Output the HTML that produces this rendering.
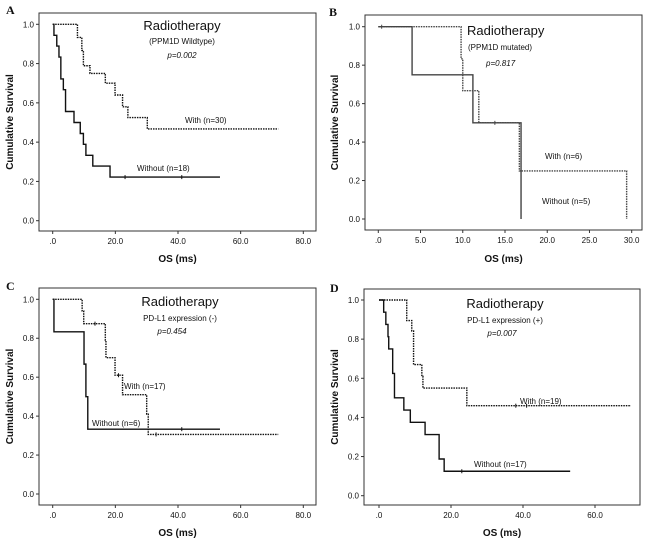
<!DOCTYPE html>
<html><head><meta charset="utf-8"><style>
body{margin:0;background:#fff}
svg text{font-family:"Liberation Sans",sans-serif;fill:#111}
svg text.letter{font-family:"Liberation Serif",serif}
</style></head><body>
<svg id="chart" width="650" height="545" viewBox="0 0 650 545" xmlns="http://www.w3.org/2000/svg"></svg>
<script>
// Panel A data
const aWithoutT=[0.4,1.3,2.0,2.6,3.4,4.1,6.8,8.8,9.8,10.6,12.8,18.3];
const aWithoutS=[0.944,0.889,0.833,0.722,0.667,0.556,0.5,0.444,0.389,0.333,0.278,0.222];
const aWithoutEnd=53.4, aWithoutCens=[23.1,41.2];
const aWithT=[7.9,9.3,9.8,11.9,16.8,19.9,22.3,24.0,30.2];
const aWithS=[0.933,0.867,0.789,0.75,0.70,0.64,0.58,0.525,0.467];
const aWithEnd=72.0, aWithCens=[];
// Panel B data
const bWithoutT=[4.0,11.2,16.9];
const bWithoutS=[0.75,0.5,0];
const bWithoutEnd=16.9, bWithoutCens=[0.4];
const bWithT=[9.8,10.0,11.9,16.7,29.4];
const bWithS=[0.833,0.667,0.5,0.25,0];
const bWithEnd=29.4, bWithCens=[13.8];
// Panel C data
const cWithoutT=[0.4,10.0,10.6,11.2];
const cWithoutS=[0.833,0.667,0.5,0.333];
const cWithoutEnd=53.4, cWithoutCens=[41.2];
const cWithT=[9.4,9.9,16.8,17.0,19.9,22.3,30.0,30.5];
const cWithS=[0.94,0.875,0.79,0.70,0.61,0.51,0.41,0.306];
const cWithEnd=72.0, cWithCens=[13.5,21.0,33.0];
// Panel D data
const dWithoutT=[1.3,1.9,2.5,2.7,3.8,4.3,6.9,8.7,12.8,16.7,18.1];
const dWithoutS=[0.9375,0.875,0.8125,0.75,0.625,0.5,0.4375,0.375,0.3125,0.1875,0.125];
const dWithoutEnd=53.1, dWithoutCens=[23.0];
const dWithT=[7.7,9.1,9.6,11.9,12.2,24.4];
const dWithS=[0.895,0.842,0.67,0.61,0.55,0.46];
const dWithEnd=70.0, dWithCens=[38.0,41.0];
// tick labels
const xTicks80=[0,20,40,60,80];
const xTicks30=[0,5,10,15,20,25,30];
const xTicks60=[0,20,40,60];
const yTicks=[0,0.2,0.4,0.6,0.8,1.0];

const svg=document.getElementById('chart');
const NS='http://www.w3.org/2000/svg';
function mk(tag,attrs,parent){const e=document.createElementNS(NS,tag);for(const k in attrs)e.setAttribute(k,attrs[k]);(parent||svg).appendChild(e);return e;}
function fmt(v){return v===0?'.0':v.toFixed(1);}
function fmtY(v){return v.toFixed(1);}

function panel(cfg){
  const g=mk('g',{});
  
  
  const xs=v=>cfg.x0+(v-cfg.xmin)*(cfg.x1-cfg.x0)/(cfg.xmax-cfg.xmin);
  const ys=v=>cfg.y0+v*(cfg.y1-cfg.y0);
  const fr=mk('rect',{x:cfg.fx,y:cfg.fy,width:cfg.fw,height:cfg.fh,fill:'none',stroke:'#333','stroke-width':1},g);
  
  
  const L=mk('text',{x:cfg.lx,y:cfg.ly,'class':'letter','font-weight':'bold','font-size':12},g);
  L.textContent=cfg.id.toUpperCase();
  
  
  yTicks.forEach(v=>{
    mk('line',{x1:cfg.fx-3,x2:cfg.fx,y1:ys(v),y2:ys(v),stroke:'#333'},g);
    const t=mk('text',{x:cfg.fx-5,y:ys(v)+3,'text-anchor':'end','font-size':8},g);
    t.textContent=fmtY(v);
    
    
  });
  cfg.xticks.forEach(v=>{
    mk('line',{x1:xs(v),x2:xs(v),y1:cfg.fy+cfg.fh,y2:cfg.fy+cfg.fh+3,stroke:'#333'},g);
    const t=mk('text',{x:xs(v),y:cfg.fy+cfg.fh+13,'text-anchor':'middle','font-size':8},g);
    t.textContent=fmt(v);
    
    
  });
  const yt=mk('text',{x:cfg.ytx,y:cfg.fy+cfg.fh/2,'text-anchor':'middle','font-size':10,'font-weight':'bold',transform:`rotate(-90 ${cfg.ytx} ${cfg.fy+cfg.fh/2})`},g);
  yt.textContent='Cumulative Survival';
  
  
  const xt=mk('text',{x:cfg.fx+cfg.fw/2,y:cfg.xty,'text-anchor':'middle','font-size':10,'font-weight':'bold'},g);
  xt.textContent='OS (ms)';
  
  
  cfg.series.forEach(s=>{
    let d=`M${xs(0)},${ys(1)}`;
    s.t.forEach((t,i)=>{d+=` H${xs(t)} V${ys(s.s[i])}`;});
    if(s.end>s.t[s.t.length-1]) d+=` H${xs(s.end)}`;
    const p=mk('path',{d:d,fill:'none',stroke:cfg.color,'stroke-width':s.dash?1.4:1.4,'stroke-dasharray':s.dash?'1.5,1':'none'},g);
    
    
    s.c.forEach(ct=>{
      let v=1;s.t.forEach((t,i)=>{if(t<=ct)v=s.s[i];});
      const m=mk('line',{x1:xs(ct),x2:xs(ct),y1:ys(v)-2,y2:ys(v)+2,stroke:cfg.color},g);
      
      
    });
  });
  cfg.texts.forEach(o=>{
    const t=mk('text',{x:o.x,y:o.y,'text-anchor':o.a||'start','font-size':o.fs,'font-style':o.it?'italic':'normal'},g);
    t.textContent=o.s;
    
    
  });
}

panel({id:'a',fx:39,fy:13,fw:277,fh:218,x0:52.7,x1:303.3,xmin:0,xmax:80,y0:220.7,y1:24.3,lx:6,ly:14,ytx:13,xty:262,xticks:xTicks80,color:'#111',
 series:[{name:'without',t:aWithoutT,s:aWithoutS,end:aWithoutEnd,c:aWithoutCens,dash:false},{name:'with',t:aWithT,s:aWithS,end:aWithEnd,c:aWithCens,dash:true}],
 texts:[{s:'Radiotherapy',x:182,y:30,a:'middle',fs:13,n:'title'},{s:'(PPM1D Wildtype)',x:182,y:44,a:'middle',fs:8,n:'subtitle'},{s:'p=0.002',x:182,y:58,a:'middle',fs:8,it:1,n:'p-value'},{s:'With (n=30)',x:185,y:123,fs:8,n:'with-label'},{s:'Without (n=18)',x:137,y:171,fs:8,n:'without-label'}]});
panel({id:'b',fx:365,fy:15,fw:277,fh:215,x0:378.3,x1:631.7,xmin:0,xmax:30,y0:219,y1:26.7,lx:329,ly:16,ytx:338,xty:262,xticks:xTicks30,color:'#444',
 series:[{name:'without',t:bWithoutT,s:bWithoutS,end:bWithoutEnd,c:bWithoutCens,dash:false},{name:'with',t:bWithT,s:bWithS,end:bWithEnd,c:bWithCens,dash:true}],
 texts:[{s:'Radiotherapy',x:467,y:35,fs:13,n:'title'},{s:'(PPM1D mutated)',x:468,y:50,fs:8,n:'subtitle'},{s:'p=0.817',x:486,y:66,fs:8,it:1,n:'p-value'},{s:'With (n=6)',x:545,y:159,fs:8,n:'with-label'},{s:'Without (n=5)',x:542,y:204,fs:8,n:'without-label'}]});
panel({id:'c',fx:39,fy:288,fw:277,fh:217,x0:52.7,x1:303.3,xmin:0,xmax:80,y0:494,y1:299.3,lx:6,ly:290,ytx:13,xty:536,xticks:xTicks80,color:'#111',
 series:[{name:'without',t:cWithoutT,s:cWithoutS,end:cWithoutEnd,c:cWithoutCens,dash:false},{name:'with',t:cWithT,s:cWithS,end:cWithEnd,c:cWithCens,dash:true}],
 texts:[{s:'Radiotherapy',x:180,y:306,a:'middle',fs:13,n:'title'},{s:'PD-L1 expression (-)',x:180,y:321,a:'middle',fs:8,n:'subtitle'},{s:'p=0.454',x:172,y:334,a:'middle',fs:8,it:1,n:'p-value'},{s:'With (n=17)',x:124,y:389,fs:8,n:'with-label'},{s:'Without (n=6)',x:92,y:426,fs:8,n:'without-label'}]});
panel({id:'d',fx:364,fy:289,fw:276,fh:216,x0:379,x1:595,xmin:0,xmax:60,y0:495.7,y1:300,lx:330,ly:292,ytx:338,xty:536,xticks:xTicks60,color:'#111',
 series:[{name:'without',t:dWithoutT,s:dWithoutS,end:dWithoutEnd,c:dWithoutCens,dash:false},{name:'with',t:dWithT,s:dWithS,end:dWithEnd,c:dWithCens,dash:true}],
 texts:[{s:'Radiotherapy',x:505,y:308,a:'middle',fs:13,n:'title'},{s:'PD-L1 expression (+)',x:505,y:323,a:'middle',fs:8,n:'subtitle'},{s:'p=0.007',x:502,y:336,a:'middle',fs:8,it:1,n:'p-value'},{s:'With (n=19)',x:520,y:404,fs:8,n:'with-label'},{s:'Without (n=17)',x:474,y:467,fs:8,n:'without-label'}]});
</script>
</body></html>
